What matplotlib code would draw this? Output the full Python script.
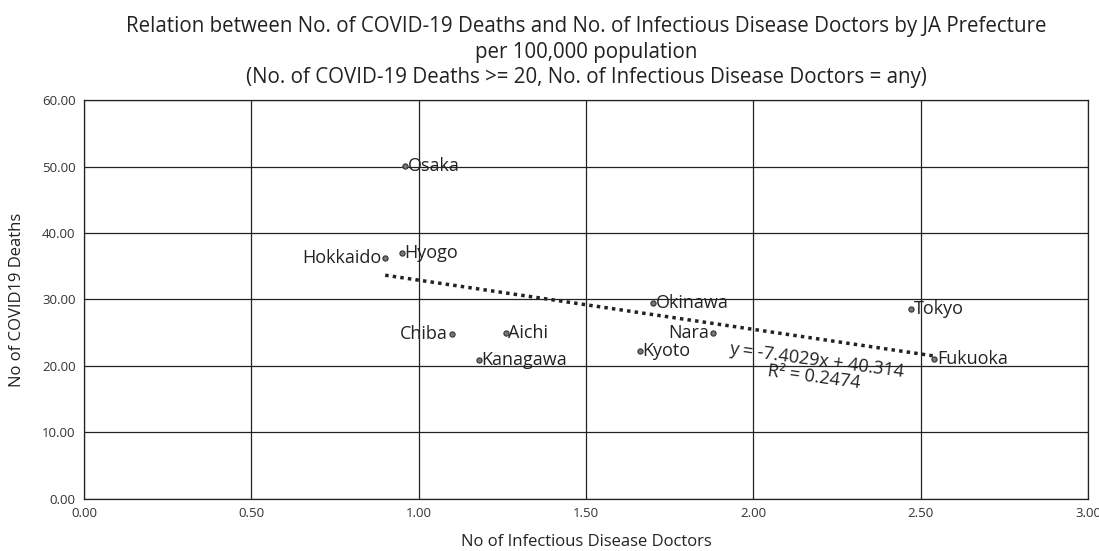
import numpy as np
import matplotlib.pyplot as plt

plt.rcParams['font.family'] = ['Open Sans', 'DejaVu Sans']

prefectures = ['Osaka', 'Hyogo', 'Hokkaido', 'Chiba', 'Aichi', 'Kanagawa',
               'Okinawa', 'Tokyo', 'Nara', 'Kyoto', 'Fukuoka']
doctors = [0.96, 0.95, 0.90, 1.10, 1.26, 1.18, 1.70, 2.47, 1.88, 1.66, 2.54]
deaths = [50.1, 37.0, 36.2, 24.8, 25.0, 20.9, 29.5, 28.5, 24.9, 22.2, 21.0]
label_side = ['r', 'r', 'l', 'l', 'r', 'r', 'r', 'r', 'l', 'r', 'r']

slope, intercept = -7.4029, 40.314
r2 = 0.2474

fig = plt.figure(figsize=(10.99, 5.51), dpi=100)
ax = fig.add_axes([0.0764, 0.0944, 0.9136, 0.7241])

ax.scatter(doctors, deaths, s=14, color='#777777', edgecolors='#333333',
           linewidths=0.8, zorder=3)

for name, x, y, side in zip(prefectures, doctors, deaths, label_side):
    if side == 'r':
        ax.annotate(name, (x, y), xytext=(2, 0), textcoords='offset points',
                    ha='left', va='center', fontsize=13, color='#222222')
    else:
        ax.annotate(name, (x, y), xytext=(-3, 0), textcoords='offset points',
                    ha='right', va='center', fontsize=13, color='#222222')

xs = np.array([min(doctors), max(doctors)])
ax.plot(xs, slope * xs + intercept, linestyle=(0, (1, 1.2)), color='#222222',
        linewidth=2.5, zorder=2)

ax.text(2.185, 19.6, f'y = {slope}x + {intercept}\nR² = {r2}', rotation=-7.5,
        ha='center', va='center', multialignment='center', fontsize=13,
        color='#222222', rotation_mode='anchor', linespacing=0.95)

ax.set_xlim(0, 3)
ax.set_ylim(0, 60)
ax.set_xticks(np.arange(0, 3.01, 0.5))
ax.set_yticks(np.arange(0, 60.1, 10))
ax.xaxis.set_major_formatter(plt.FuncFormatter(lambda v, p: f'{v:.2f}'))
ax.yaxis.set_major_formatter(plt.FuncFormatter(lambda v, p: f'{v:.2f}'))
ax.tick_params(length=0, labelsize=9.5, colors='#333333', pad=6)
ax.grid(True, color='#222222', linewidth=0.9)
for s in ax.spines.values():
    s.set_color('#222222')
    s.set_linewidth(0.9)

ax.set_xlabel('No of Infectious Disease Doctors', fontsize=12, color='#222222', labelpad=10)
ax.set_ylabel('No of COVID19 Deaths', fontsize=12, color='#222222', labelpad=12)
ax.set_title('Relation between No. of COVID-19 Deaths and No. of Infectious Disease Doctors by JA Prefecture\n'
             'per 100,000 population\n'
             '(No. of COVID-19 Deaths >= 20, No. of Infectious Disease Doctors = any)',
             fontsize=14.8, color='#222222', pad=12, linespacing=1.3)

fig.savefig('out.png', dpi=100)
